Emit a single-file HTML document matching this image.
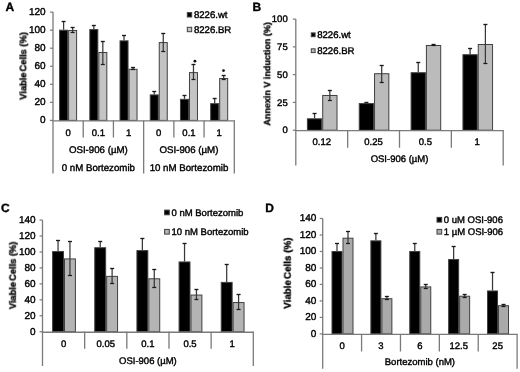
<!DOCTYPE html>
<html><head><meta charset="utf-8"><style>
html,body{margin:0;padding:0;background:#fff;}
svg{display:block;font-family:"Liberation Sans", sans-serif;filter:blur(0.3px);}
text{will-change:transform;text-rendering:geometricPrecision;}
text.r{stroke:#000;stroke-width:0.4px;}
text.b{stroke:#000;stroke-width:0.35px;}
</style></head><body>
<svg width="520" height="372" viewBox="0 0 520 372">
<rect width="520" height="372" fill="#fff"/>
<rect x="59.60" y="30.20" width="8.00" height="90.20" fill="#000" stroke="#404040" stroke-width="1"/>
<line x1="63.60" y1="21.50" x2="63.60" y2="29.70" stroke="#383838" stroke-width="1.25"/>
<line x1="61.60" y1="21.50" x2="65.60" y2="21.50" stroke="#1a1a1a" stroke-width="1.35"/>
<rect x="68.60" y="30.47" width="8.00" height="89.93" fill="#c4c4c4" stroke="#404040" stroke-width="1"/>
<line x1="72.60" y1="27.50" x2="72.60" y2="32.50" stroke="#383838" stroke-width="1.25"/>
<line x1="70.60" y1="27.50" x2="74.60" y2="27.50" stroke="#1a1a1a" stroke-width="1.35"/>
<line x1="70.60" y1="32.50" x2="74.60" y2="32.50" stroke="#1a1a1a" stroke-width="1.25"/>
<rect x="89.82" y="29.57" width="8.00" height="90.83" fill="#000" stroke="#404040" stroke-width="1"/>
<line x1="93.82" y1="25.50" x2="93.82" y2="29.07" stroke="#383838" stroke-width="1.25"/>
<line x1="91.82" y1="25.50" x2="95.82" y2="25.50" stroke="#1a1a1a" stroke-width="1.35"/>
<rect x="98.82" y="52.49" width="8.00" height="67.91" fill="#c4c4c4" stroke="#404040" stroke-width="1"/>
<line x1="102.82" y1="41.50" x2="102.82" y2="64.50" stroke="#383838" stroke-width="1.25"/>
<line x1="100.82" y1="41.50" x2="104.82" y2="41.50" stroke="#1a1a1a" stroke-width="1.35"/>
<line x1="100.82" y1="64.50" x2="104.82" y2="64.50" stroke="#1a1a1a" stroke-width="1.25"/>
<rect x="120.03" y="40.85" width="8.00" height="79.55" fill="#000" stroke="#404040" stroke-width="1"/>
<line x1="124.03" y1="35.50" x2="124.03" y2="40.35" stroke="#383838" stroke-width="1.25"/>
<line x1="122.03" y1="35.50" x2="126.03" y2="35.50" stroke="#1a1a1a" stroke-width="1.35"/>
<rect x="129.03" y="69.28" width="8.00" height="51.12" fill="#c4c4c4" stroke="#404040" stroke-width="1"/>
<line x1="133.03" y1="67.50" x2="133.03" y2="69.50" stroke="#383838" stroke-width="1.25"/>
<line x1="131.03" y1="67.50" x2="135.03" y2="67.50" stroke="#1a1a1a" stroke-width="1.35"/>
<line x1="131.03" y1="69.50" x2="135.03" y2="69.50" stroke="#1a1a1a" stroke-width="1.25"/>
<rect x="150.25" y="94.91" width="8.00" height="25.49" fill="#000" stroke="#404040" stroke-width="1"/>
<line x1="154.25" y1="91.50" x2="154.25" y2="94.41" stroke="#383838" stroke-width="1.25"/>
<line x1="152.25" y1="91.50" x2="156.25" y2="91.50" stroke="#1a1a1a" stroke-width="1.35"/>
<rect x="159.25" y="42.56" width="8.00" height="77.84" fill="#c4c4c4" stroke="#404040" stroke-width="1"/>
<line x1="163.25" y1="33.50" x2="163.25" y2="51.50" stroke="#383838" stroke-width="1.25"/>
<line x1="161.25" y1="33.50" x2="165.25" y2="33.50" stroke="#1a1a1a" stroke-width="1.35"/>
<line x1="161.25" y1="51.50" x2="165.25" y2="51.50" stroke="#1a1a1a" stroke-width="1.25"/>
<rect x="180.47" y="99.33" width="8.00" height="21.07" fill="#000" stroke="#404040" stroke-width="1"/>
<line x1="184.47" y1="95.50" x2="184.47" y2="98.83" stroke="#383838" stroke-width="1.25"/>
<line x1="182.47" y1="95.50" x2="186.47" y2="95.50" stroke="#1a1a1a" stroke-width="1.35"/>
<rect x="189.47" y="72.62" width="8.00" height="47.78" fill="#c4c4c4" stroke="#404040" stroke-width="1"/>
<line x1="193.47" y1="64.50" x2="193.47" y2="79.50" stroke="#383838" stroke-width="1.25"/>
<line x1="191.47" y1="64.50" x2="195.47" y2="64.50" stroke="#1a1a1a" stroke-width="1.35"/>
<line x1="191.47" y1="79.50" x2="195.47" y2="79.50" stroke="#1a1a1a" stroke-width="1.25"/>
<rect x="210.68" y="103.66" width="8.00" height="16.74" fill="#000" stroke="#404040" stroke-width="1"/>
<line x1="214.68" y1="98.50" x2="214.68" y2="103.16" stroke="#383838" stroke-width="1.25"/>
<line x1="212.68" y1="98.50" x2="216.68" y2="98.50" stroke="#1a1a1a" stroke-width="1.35"/>
<rect x="219.68" y="78.48" width="8.00" height="41.92" fill="#c4c4c4" stroke="#404040" stroke-width="1"/>
<line x1="223.68" y1="75.50" x2="223.68" y2="79.50" stroke="#383838" stroke-width="1.25"/>
<line x1="221.68" y1="75.50" x2="225.68" y2="75.50" stroke="#1a1a1a" stroke-width="1.35"/>
<line x1="221.68" y1="79.50" x2="225.68" y2="79.50" stroke="#1a1a1a" stroke-width="1.25"/>
<line x1="53.00" y1="12.10" x2="53.00" y2="173.50" stroke="#7a7a7a" stroke-width="1.3"/>
<line x1="52.40" y1="120.90" x2="234.90" y2="120.90" stroke="#7a7a7a" stroke-width="1.3"/>
<line x1="50.00" y1="120.40" x2="53.00" y2="120.40" stroke="#7a7a7a" stroke-width="1.2"/>
<text class="r" x="45.60" y="123.30" font-size="10" text-anchor="end" font-weight="normal" fill="#000">0</text>
<line x1="50.00" y1="102.35" x2="53.00" y2="102.35" stroke="#7a7a7a" stroke-width="1.2"/>
<text class="r" x="45.60" y="105.25" font-size="10" text-anchor="end" font-weight="normal" fill="#000">20</text>
<line x1="50.00" y1="84.30" x2="53.00" y2="84.30" stroke="#7a7a7a" stroke-width="1.2"/>
<text class="r" x="45.60" y="87.20" font-size="10" text-anchor="end" font-weight="normal" fill="#000">40</text>
<line x1="50.00" y1="66.25" x2="53.00" y2="66.25" stroke="#7a7a7a" stroke-width="1.2"/>
<text class="r" x="45.60" y="69.15" font-size="10" text-anchor="end" font-weight="normal" fill="#000">60</text>
<line x1="50.00" y1="48.20" x2="53.00" y2="48.20" stroke="#7a7a7a" stroke-width="1.2"/>
<text class="r" x="45.60" y="51.10" font-size="10" text-anchor="end" font-weight="normal" fill="#000">80</text>
<line x1="50.00" y1="30.15" x2="53.00" y2="30.15" stroke="#7a7a7a" stroke-width="1.2"/>
<text class="r" x="45.60" y="33.05" font-size="10" text-anchor="end" font-weight="normal" fill="#000">100</text>
<line x1="50.00" y1="12.10" x2="53.00" y2="12.10" stroke="#7a7a7a" stroke-width="1.2"/>
<text class="r" x="45.60" y="15.00" font-size="10" text-anchor="end" font-weight="normal" fill="#000">120</text>
<line x1="83.22" y1="120.40" x2="83.22" y2="137.50" stroke="#7a7a7a" stroke-width="1.3"/>
<line x1="113.43" y1="120.40" x2="113.43" y2="137.50" stroke="#7a7a7a" stroke-width="1.3"/>
<line x1="143.65" y1="120.40" x2="143.65" y2="173.50" stroke="#7a7a7a" stroke-width="1.3"/>
<line x1="173.87" y1="120.40" x2="173.87" y2="137.50" stroke="#7a7a7a" stroke-width="1.3"/>
<line x1="204.08" y1="120.40" x2="204.08" y2="137.50" stroke="#7a7a7a" stroke-width="1.3"/>
<line x1="234.30" y1="120.40" x2="234.30" y2="173.50" stroke="#7a7a7a" stroke-width="1.3"/>
<text class="r" x="68.11" y="135.60" font-size="9.5" text-anchor="middle" font-weight="normal" fill="#000">0</text>
<text class="r" x="98.33" y="135.60" font-size="9.5" text-anchor="middle" font-weight="normal" fill="#000">0.1</text>
<text class="r" x="128.54" y="135.60" font-size="9.5" text-anchor="middle" font-weight="normal" fill="#000">1</text>
<text class="r" x="158.76" y="135.60" font-size="9.5" text-anchor="middle" font-weight="normal" fill="#000">0</text>
<text class="r" x="188.98" y="135.60" font-size="9.5" text-anchor="middle" font-weight="normal" fill="#000">0.1</text>
<text class="r" x="219.19" y="135.60" font-size="9.5" text-anchor="middle" font-weight="normal" fill="#000">1</text>
<text class="r" x="98.33" y="153.20" font-size="9.7" text-anchor="middle" font-weight="normal" fill="#000">OSI-906 (µM)</text>
<text class="r" x="188.98" y="153.20" font-size="9.7" text-anchor="middle" font-weight="normal" fill="#000">OSI-906 (µM)</text>
<text class="r" x="98.33" y="170.60" font-size="9.7" text-anchor="middle" font-weight="normal" fill="#000">0 nM Bortezomib</text>
<text class="r" x="188.98" y="170.60" font-size="9.7" text-anchor="middle" font-weight="normal" fill="#000">10 nM Bortezomib</text>
<text class="b" x="26.30" y="66.00" font-size="9.3" text-anchor="middle" font-weight="bold" fill="#000" transform="rotate(-90 26.3 66.0)">Viable<tspan dx="-1.6"> Cells (%)</tspan></text>
<rect x="187.30" y="12.60" width="4.40" height="4.40" fill="#000" stroke="#404040" stroke-width="1"/>
<text class="r" x="193.90" y="18.10" font-size="9.6" text-anchor="start" font-weight="normal" fill="#000">8226.wt</text>
<rect x="187.30" y="27.30" width="4.40" height="4.40" fill="#c4c4c4" stroke="#404040" stroke-width="1"/>
<text class="r" x="193.90" y="32.90" font-size="9.6" text-anchor="start" font-weight="normal" fill="#000">8226.BR</text>
<text class="b" x="5.50" y="10.60" font-size="12" text-anchor="start" font-weight="bold" fill="#000">A</text>
<rect x="307.40" y="118.81" width="14.30" height="11.39" fill="#000" stroke="#404040" stroke-width="1"/>
<line x1="314.55" y1="113.50" x2="314.55" y2="118.31" stroke="#383838" stroke-width="1.25"/>
<line x1="312.55" y1="113.50" x2="316.55" y2="113.50" stroke="#1a1a1a" stroke-width="1.35"/>
<rect x="322.70" y="95.48" width="14.30" height="34.72" fill="#bbbbbb" stroke="#404040" stroke-width="1"/>
<line x1="329.85" y1="90.50" x2="329.85" y2="100.50" stroke="#383838" stroke-width="1.25"/>
<line x1="327.85" y1="90.50" x2="331.85" y2="90.50" stroke="#1a1a1a" stroke-width="1.35"/>
<line x1="327.85" y1="100.50" x2="331.85" y2="100.50" stroke="#1a1a1a" stroke-width="1.25"/>
<rect x="359.25" y="103.59" width="14.30" height="26.61" fill="#000" stroke="#404040" stroke-width="1"/>
<line x1="366.40" y1="102.50" x2="366.40" y2="103.09" stroke="#383838" stroke-width="1.25"/>
<line x1="364.40" y1="102.50" x2="368.40" y2="102.50" stroke="#1a1a1a" stroke-width="1.35"/>
<rect x="374.55" y="73.71" width="14.30" height="56.49" fill="#bbbbbb" stroke="#404040" stroke-width="1"/>
<line x1="381.70" y1="65.50" x2="381.70" y2="82.50" stroke="#383838" stroke-width="1.25"/>
<line x1="379.70" y1="65.50" x2="383.70" y2="65.50" stroke="#1a1a1a" stroke-width="1.35"/>
<line x1="379.70" y1="82.50" x2="383.70" y2="82.50" stroke="#1a1a1a" stroke-width="1.25"/>
<rect x="411.10" y="72.71" width="14.30" height="57.49" fill="#000" stroke="#404040" stroke-width="1"/>
<line x1="418.25" y1="62.50" x2="418.25" y2="72.21" stroke="#383838" stroke-width="1.25"/>
<line x1="416.25" y1="62.50" x2="420.25" y2="62.50" stroke="#1a1a1a" stroke-width="1.35"/>
<rect x="426.40" y="45.49" width="14.30" height="84.71" fill="#bbbbbb" stroke="#404040" stroke-width="1"/>
<line x1="433.55" y1="44.50" x2="433.55" y2="45.50" stroke="#383838" stroke-width="1.25"/>
<line x1="431.55" y1="44.50" x2="435.55" y2="44.50" stroke="#1a1a1a" stroke-width="1.35"/>
<line x1="431.55" y1="45.50" x2="435.55" y2="45.50" stroke="#1a1a1a" stroke-width="1.25"/>
<rect x="462.95" y="54.71" width="14.30" height="75.49" fill="#000" stroke="#404040" stroke-width="1"/>
<line x1="470.10" y1="48.50" x2="470.10" y2="54.21" stroke="#383838" stroke-width="1.25"/>
<line x1="468.10" y1="48.50" x2="472.10" y2="48.50" stroke="#1a1a1a" stroke-width="1.35"/>
<rect x="478.25" y="44.49" width="14.30" height="85.71" fill="#bbbbbb" stroke="#404040" stroke-width="1"/>
<line x1="485.40" y1="24.50" x2="485.40" y2="63.50" stroke="#383838" stroke-width="1.25"/>
<line x1="483.40" y1="24.50" x2="487.40" y2="24.50" stroke="#1a1a1a" stroke-width="1.35"/>
<line x1="483.40" y1="63.50" x2="487.40" y2="63.50" stroke="#1a1a1a" stroke-width="1.25"/>
<line x1="295.80" y1="19.10" x2="295.80" y2="165.50" stroke="#7a7a7a" stroke-width="1.3"/>
<line x1="295.20" y1="130.70" x2="503.80" y2="130.70" stroke="#7a7a7a" stroke-width="1.3"/>
<line x1="292.80" y1="130.20" x2="295.80" y2="130.20" stroke="#7a7a7a" stroke-width="1.2"/>
<text class="r" x="287.70" y="133.40" font-size="9.5" text-anchor="end" font-weight="normal" fill="#000">0</text>
<line x1="292.80" y1="102.42" x2="295.80" y2="102.42" stroke="#7a7a7a" stroke-width="1.2"/>
<text class="r" x="287.70" y="105.62" font-size="9.5" text-anchor="end" font-weight="normal" fill="#000">25</text>
<line x1="292.80" y1="74.65" x2="295.80" y2="74.65" stroke="#7a7a7a" stroke-width="1.2"/>
<text class="r" x="287.70" y="77.85" font-size="9.5" text-anchor="end" font-weight="normal" fill="#000">50</text>
<line x1="292.80" y1="46.87" x2="295.80" y2="46.87" stroke="#7a7a7a" stroke-width="1.2"/>
<text class="r" x="287.70" y="50.07" font-size="9.5" text-anchor="end" font-weight="normal" fill="#000">75</text>
<line x1="292.80" y1="19.10" x2="295.80" y2="19.10" stroke="#7a7a7a" stroke-width="1.2"/>
<text class="r" x="287.70" y="22.30" font-size="9.5" text-anchor="end" font-weight="normal" fill="#000">100</text>
<line x1="347.65" y1="130.20" x2="347.65" y2="147.70" stroke="#7a7a7a" stroke-width="1.3"/>
<line x1="399.50" y1="130.20" x2="399.50" y2="147.70" stroke="#7a7a7a" stroke-width="1.3"/>
<line x1="451.35" y1="130.20" x2="451.35" y2="147.70" stroke="#7a7a7a" stroke-width="1.3"/>
<line x1="503.20" y1="130.20" x2="503.20" y2="165.50" stroke="#7a7a7a" stroke-width="1.3"/>
<text class="r" x="321.73" y="144.50" font-size="9.5" text-anchor="middle" font-weight="normal" fill="#000">0.12</text>
<text class="r" x="373.57" y="144.50" font-size="9.5" text-anchor="middle" font-weight="normal" fill="#000">0.25</text>
<text class="r" x="425.43" y="144.50" font-size="9.5" text-anchor="middle" font-weight="normal" fill="#000">0.5</text>
<text class="r" x="477.27" y="144.50" font-size="9.5" text-anchor="middle" font-weight="normal" fill="#000">1</text>
<text class="r" x="399.50" y="162.10" font-size="9.5" text-anchor="middle" font-weight="normal" fill="#000">OSI-906 (µM)</text>
<text class="b" x="270.20" y="74.00" font-size="9" text-anchor="middle" font-weight="bold" fill="#000" transform="rotate(-90 270.2 74)">Annexin V induction (%)</text>
<rect x="311.30" y="32.90" width="3.80" height="3.80" fill="#000" stroke="#404040" stroke-width="1"/>
<text class="r" x="317.20" y="38.00" font-size="9.6" text-anchor="start" font-weight="normal" fill="#000">8226.wt</text>
<rect x="311.30" y="48.80" width="3.80" height="3.80" fill="#bbbbbb" stroke="#404040" stroke-width="1"/>
<text class="r" x="317.20" y="53.90" font-size="9.6" text-anchor="start" font-weight="normal" fill="#000">8226.BR</text>
<text class="b" x="252.40" y="11.30" font-size="12" text-anchor="start" font-weight="bold" fill="#000">B</text>
<rect x="52.60" y="251.57" width="10.90" height="80.18" fill="#000" stroke="#404040" stroke-width="1"/>
<line x1="58.05" y1="240.50" x2="58.05" y2="251.07" stroke="#383838" stroke-width="1.25"/>
<line x1="56.05" y1="240.50" x2="60.05" y2="240.50" stroke="#1a1a1a" stroke-width="1.35"/>
<rect x="64.50" y="258.91" width="10.90" height="72.84" fill="#b4b4b4" stroke="#404040" stroke-width="1"/>
<line x1="69.95" y1="241.50" x2="69.95" y2="275.50" stroke="#383838" stroke-width="1.25"/>
<line x1="67.95" y1="241.50" x2="71.95" y2="241.50" stroke="#1a1a1a" stroke-width="1.35"/>
<line x1="67.95" y1="275.50" x2="71.95" y2="275.50" stroke="#1a1a1a" stroke-width="1.25"/>
<rect x="94.76" y="247.74" width="10.90" height="84.01" fill="#000" stroke="#404040" stroke-width="1"/>
<line x1="100.21" y1="241.50" x2="100.21" y2="247.24" stroke="#383838" stroke-width="1.25"/>
<line x1="98.21" y1="241.50" x2="102.21" y2="241.50" stroke="#1a1a1a" stroke-width="1.35"/>
<rect x="106.66" y="276.39" width="10.90" height="55.36" fill="#b4b4b4" stroke="#404040" stroke-width="1"/>
<line x1="112.11" y1="268.50" x2="112.11" y2="283.50" stroke="#383838" stroke-width="1.25"/>
<line x1="110.11" y1="268.50" x2="114.11" y2="268.50" stroke="#1a1a1a" stroke-width="1.35"/>
<line x1="110.11" y1="283.50" x2="114.11" y2="283.50" stroke="#1a1a1a" stroke-width="1.25"/>
<rect x="136.92" y="250.61" width="10.90" height="81.14" fill="#000" stroke="#404040" stroke-width="1"/>
<line x1="142.37" y1="238.50" x2="142.37" y2="250.11" stroke="#383838" stroke-width="1.25"/>
<line x1="140.37" y1="238.50" x2="144.37" y2="238.50" stroke="#1a1a1a" stroke-width="1.35"/>
<rect x="148.82" y="278.78" width="10.90" height="52.97" fill="#b4b4b4" stroke="#404040" stroke-width="1"/>
<line x1="154.27" y1="269.50" x2="154.27" y2="287.50" stroke="#383838" stroke-width="1.25"/>
<line x1="152.27" y1="269.50" x2="156.27" y2="269.50" stroke="#1a1a1a" stroke-width="1.35"/>
<line x1="152.27" y1="287.50" x2="156.27" y2="287.50" stroke="#1a1a1a" stroke-width="1.25"/>
<rect x="179.08" y="261.95" width="10.90" height="69.80" fill="#000" stroke="#404040" stroke-width="1"/>
<line x1="184.53" y1="243.50" x2="184.53" y2="261.45" stroke="#383838" stroke-width="1.25"/>
<line x1="182.53" y1="243.50" x2="186.53" y2="243.50" stroke="#1a1a1a" stroke-width="1.35"/>
<rect x="190.98" y="295.06" width="10.90" height="36.69" fill="#b4b4b4" stroke="#404040" stroke-width="1"/>
<line x1="196.43" y1="289.50" x2="196.43" y2="299.50" stroke="#383838" stroke-width="1.25"/>
<line x1="194.43" y1="289.50" x2="198.43" y2="289.50" stroke="#1a1a1a" stroke-width="1.35"/>
<line x1="194.43" y1="299.50" x2="198.43" y2="299.50" stroke="#1a1a1a" stroke-width="1.25"/>
<rect x="221.24" y="282.38" width="10.90" height="49.38" fill="#000" stroke="#404040" stroke-width="1"/>
<line x1="226.69" y1="264.50" x2="226.69" y2="281.88" stroke="#383838" stroke-width="1.25"/>
<line x1="224.69" y1="264.50" x2="228.69" y2="264.50" stroke="#1a1a1a" stroke-width="1.35"/>
<rect x="233.14" y="302.56" width="10.90" height="29.19" fill="#b4b4b4" stroke="#404040" stroke-width="1"/>
<line x1="238.59" y1="294.50" x2="238.59" y2="309.50" stroke="#383838" stroke-width="1.25"/>
<line x1="236.59" y1="294.50" x2="240.59" y2="294.50" stroke="#1a1a1a" stroke-width="1.35"/>
<line x1="236.59" y1="309.50" x2="240.59" y2="309.50" stroke="#1a1a1a" stroke-width="1.25"/>
<line x1="42.50" y1="220.03" x2="42.50" y2="366.00" stroke="#7a7a7a" stroke-width="1.3"/>
<line x1="41.90" y1="332.25" x2="253.90" y2="332.25" stroke="#7a7a7a" stroke-width="1.3"/>
<line x1="39.50" y1="331.75" x2="42.50" y2="331.75" stroke="#7a7a7a" stroke-width="1.2"/>
<text class="r" x="35.60" y="334.65" font-size="10" text-anchor="end" font-weight="normal" fill="#000">0</text>
<line x1="39.50" y1="315.79" x2="42.50" y2="315.79" stroke="#7a7a7a" stroke-width="1.2"/>
<text class="r" x="35.60" y="318.69" font-size="10" text-anchor="end" font-weight="normal" fill="#000">20</text>
<line x1="39.50" y1="299.83" x2="42.50" y2="299.83" stroke="#7a7a7a" stroke-width="1.2"/>
<text class="r" x="35.60" y="302.73" font-size="10" text-anchor="end" font-weight="normal" fill="#000">40</text>
<line x1="39.50" y1="283.87" x2="42.50" y2="283.87" stroke="#7a7a7a" stroke-width="1.2"/>
<text class="r" x="35.60" y="286.77" font-size="10" text-anchor="end" font-weight="normal" fill="#000">60</text>
<line x1="39.50" y1="267.91" x2="42.50" y2="267.91" stroke="#7a7a7a" stroke-width="1.2"/>
<text class="r" x="35.60" y="270.81" font-size="10" text-anchor="end" font-weight="normal" fill="#000">80</text>
<line x1="39.50" y1="251.95" x2="42.50" y2="251.95" stroke="#7a7a7a" stroke-width="1.2"/>
<text class="r" x="35.60" y="254.85" font-size="10" text-anchor="end" font-weight="normal" fill="#000">100</text>
<line x1="39.50" y1="235.99" x2="42.50" y2="235.99" stroke="#7a7a7a" stroke-width="1.2"/>
<text class="r" x="35.60" y="238.89" font-size="10" text-anchor="end" font-weight="normal" fill="#000">120</text>
<line x1="39.50" y1="220.03" x2="42.50" y2="220.03" stroke="#7a7a7a" stroke-width="1.2"/>
<text class="r" x="35.60" y="222.93" font-size="10" text-anchor="end" font-weight="normal" fill="#000">140</text>
<line x1="84.66" y1="331.75" x2="84.66" y2="348.70" stroke="#7a7a7a" stroke-width="1.3"/>
<line x1="126.82" y1="331.75" x2="126.82" y2="348.70" stroke="#7a7a7a" stroke-width="1.3"/>
<line x1="168.98" y1="331.75" x2="168.98" y2="348.70" stroke="#7a7a7a" stroke-width="1.3"/>
<line x1="211.14" y1="331.75" x2="211.14" y2="348.70" stroke="#7a7a7a" stroke-width="1.3"/>
<line x1="253.30" y1="331.75" x2="253.30" y2="366.00" stroke="#7a7a7a" stroke-width="1.3"/>
<text class="r" x="63.58" y="346.80" font-size="9.5" text-anchor="middle" font-weight="normal" fill="#000">0</text>
<text class="r" x="105.74" y="346.80" font-size="9.5" text-anchor="middle" font-weight="normal" fill="#000">0.05</text>
<text class="r" x="147.90" y="346.80" font-size="9.5" text-anchor="middle" font-weight="normal" fill="#000">0.1</text>
<text class="r" x="190.06" y="346.80" font-size="9.5" text-anchor="middle" font-weight="normal" fill="#000">0.5</text>
<text class="r" x="232.22" y="346.80" font-size="9.5" text-anchor="middle" font-weight="normal" fill="#000">1</text>
<text class="r" x="147.90" y="363.90" font-size="9.5" text-anchor="middle" font-weight="normal" fill="#000">OSI-906 (µM)</text>
<text class="b" x="16.20" y="275.40" font-size="9.3" text-anchor="middle" font-weight="bold" fill="#000" transform="rotate(-90 16.2 275.4)">Viable<tspan dx="-1.6"> Cells (%)</tspan></text>
<rect x="164.60" y="210.10" width="4.70" height="4.70" fill="#000" stroke="#404040" stroke-width="1"/>
<text class="r" x="171.50" y="215.90" font-size="9.5" text-anchor="start" font-weight="normal" fill="#000">0 nM Bortezomib</text>
<rect x="164.60" y="229.40" width="4.70" height="4.70" fill="#b4b4b4" stroke="#404040" stroke-width="1"/>
<text class="r" x="171.50" y="235.00" font-size="9.5" text-anchor="start" font-weight="normal" fill="#000">10 nM Bortezomib</text>
<text class="b" x="0.90" y="211.80" font-size="12" text-anchor="start" font-weight="bold" fill="#000">C</text>
<rect x="332.00" y="251.48" width="10.00" height="82.42" fill="#000" stroke="#404040" stroke-width="1"/>
<line x1="337.00" y1="243.50" x2="337.00" y2="250.98" stroke="#383838" stroke-width="1.25"/>
<line x1="335.00" y1="243.50" x2="339.00" y2="243.50" stroke="#1a1a1a" stroke-width="1.35"/>
<rect x="343.00" y="238.20" width="10.00" height="95.70" fill="#aaaaaa" stroke="#404040" stroke-width="1"/>
<line x1="348.00" y1="231.50" x2="348.00" y2="243.50" stroke="#383838" stroke-width="1.25"/>
<line x1="346.00" y1="231.50" x2="350.00" y2="231.50" stroke="#1a1a1a" stroke-width="1.35"/>
<line x1="346.00" y1="243.50" x2="350.00" y2="243.50" stroke="#1a1a1a" stroke-width="1.25"/>
<rect x="370.88" y="240.84" width="10.00" height="93.06" fill="#000" stroke="#404040" stroke-width="1"/>
<line x1="375.88" y1="233.50" x2="375.88" y2="240.34" stroke="#383838" stroke-width="1.25"/>
<line x1="373.88" y1="233.50" x2="377.88" y2="233.50" stroke="#1a1a1a" stroke-width="1.35"/>
<rect x="381.88" y="298.71" width="10.00" height="35.19" fill="#aaaaaa" stroke="#404040" stroke-width="1"/>
<line x1="386.88" y1="296.50" x2="386.88" y2="299.50" stroke="#383838" stroke-width="1.25"/>
<line x1="384.88" y1="296.50" x2="388.88" y2="296.50" stroke="#1a1a1a" stroke-width="1.35"/>
<line x1="384.88" y1="299.50" x2="388.88" y2="299.50" stroke="#1a1a1a" stroke-width="1.25"/>
<rect x="409.76" y="251.48" width="10.00" height="82.42" fill="#000" stroke="#404040" stroke-width="1"/>
<line x1="414.76" y1="243.50" x2="414.76" y2="250.98" stroke="#383838" stroke-width="1.25"/>
<line x1="412.76" y1="243.50" x2="416.76" y2="243.50" stroke="#1a1a1a" stroke-width="1.35"/>
<rect x="420.76" y="286.92" width="10.00" height="46.98" fill="#aaaaaa" stroke="#404040" stroke-width="1"/>
<line x1="425.76" y1="284.50" x2="425.76" y2="288.50" stroke="#383838" stroke-width="1.25"/>
<line x1="423.76" y1="284.50" x2="427.76" y2="284.50" stroke="#1a1a1a" stroke-width="1.35"/>
<line x1="423.76" y1="288.50" x2="427.76" y2="288.50" stroke="#1a1a1a" stroke-width="1.25"/>
<rect x="448.64" y="259.47" width="10.00" height="74.43" fill="#000" stroke="#404040" stroke-width="1"/>
<line x1="453.64" y1="246.50" x2="453.64" y2="258.97" stroke="#383838" stroke-width="1.25"/>
<line x1="451.64" y1="246.50" x2="455.64" y2="246.50" stroke="#1a1a1a" stroke-width="1.35"/>
<rect x="459.64" y="296.23" width="10.00" height="37.67" fill="#aaaaaa" stroke="#404040" stroke-width="1"/>
<line x1="464.64" y1="294.50" x2="464.64" y2="297.50" stroke="#383838" stroke-width="1.25"/>
<line x1="462.64" y1="294.50" x2="466.64" y2="294.50" stroke="#1a1a1a" stroke-width="1.35"/>
<line x1="462.64" y1="297.50" x2="466.64" y2="297.50" stroke="#1a1a1a" stroke-width="1.25"/>
<rect x="487.52" y="290.96" width="10.00" height="42.94" fill="#000" stroke="#404040" stroke-width="1"/>
<line x1="492.52" y1="272.50" x2="492.52" y2="290.46" stroke="#383838" stroke-width="1.25"/>
<line x1="490.52" y1="272.50" x2="494.52" y2="272.50" stroke="#1a1a1a" stroke-width="1.35"/>
<rect x="498.52" y="305.71" width="10.00" height="28.19" fill="#aaaaaa" stroke="#404040" stroke-width="1"/>
<line x1="503.52" y1="304.50" x2="503.52" y2="306.50" stroke="#383838" stroke-width="1.25"/>
<line x1="501.52" y1="304.50" x2="505.52" y2="304.50" stroke="#1a1a1a" stroke-width="1.35"/>
<line x1="501.52" y1="306.50" x2="505.52" y2="306.50" stroke="#1a1a1a" stroke-width="1.25"/>
<line x1="322.70" y1="218.50" x2="322.70" y2="368.80" stroke="#7a7a7a" stroke-width="1.3"/>
<line x1="322.10" y1="334.40" x2="517.70" y2="334.40" stroke="#7a7a7a" stroke-width="1.3"/>
<line x1="319.70" y1="333.90" x2="322.70" y2="333.90" stroke="#7a7a7a" stroke-width="1.2"/>
<text class="r" x="316.40" y="336.80" font-size="10" text-anchor="end" font-weight="normal" fill="#000">0</text>
<line x1="319.70" y1="317.41" x2="322.70" y2="317.41" stroke="#7a7a7a" stroke-width="1.2"/>
<text class="r" x="316.40" y="320.31" font-size="10" text-anchor="end" font-weight="normal" fill="#000">20</text>
<line x1="319.70" y1="300.93" x2="322.70" y2="300.93" stroke="#7a7a7a" stroke-width="1.2"/>
<text class="r" x="316.40" y="303.83" font-size="10" text-anchor="end" font-weight="normal" fill="#000">40</text>
<line x1="319.70" y1="284.44" x2="322.70" y2="284.44" stroke="#7a7a7a" stroke-width="1.2"/>
<text class="r" x="316.40" y="287.34" font-size="10" text-anchor="end" font-weight="normal" fill="#000">60</text>
<line x1="319.70" y1="267.96" x2="322.70" y2="267.96" stroke="#7a7a7a" stroke-width="1.2"/>
<text class="r" x="316.40" y="270.86" font-size="10" text-anchor="end" font-weight="normal" fill="#000">80</text>
<line x1="319.70" y1="251.47" x2="322.70" y2="251.47" stroke="#7a7a7a" stroke-width="1.2"/>
<text class="r" x="316.40" y="254.37" font-size="10" text-anchor="end" font-weight="normal" fill="#000">100</text>
<line x1="319.70" y1="234.98" x2="322.70" y2="234.98" stroke="#7a7a7a" stroke-width="1.2"/>
<text class="r" x="316.40" y="237.88" font-size="10" text-anchor="end" font-weight="normal" fill="#000">120</text>
<line x1="319.70" y1="218.50" x2="322.70" y2="218.50" stroke="#7a7a7a" stroke-width="1.2"/>
<text class="r" x="316.40" y="221.40" font-size="10" text-anchor="end" font-weight="normal" fill="#000">140</text>
<line x1="361.58" y1="333.90" x2="361.58" y2="351.50" stroke="#7a7a7a" stroke-width="1.3"/>
<line x1="400.46" y1="333.90" x2="400.46" y2="351.50" stroke="#7a7a7a" stroke-width="1.3"/>
<line x1="439.34" y1="333.90" x2="439.34" y2="351.50" stroke="#7a7a7a" stroke-width="1.3"/>
<line x1="478.22" y1="333.90" x2="478.22" y2="351.50" stroke="#7a7a7a" stroke-width="1.3"/>
<line x1="517.10" y1="333.90" x2="517.10" y2="368.80" stroke="#7a7a7a" stroke-width="1.3"/>
<text class="r" x="342.14" y="348.70" font-size="9.5" text-anchor="middle" font-weight="normal" fill="#000">0</text>
<text class="r" x="381.02" y="348.70" font-size="9.5" text-anchor="middle" font-weight="normal" fill="#000">3</text>
<text class="r" x="419.90" y="348.70" font-size="9.5" text-anchor="middle" font-weight="normal" fill="#000">6</text>
<text class="r" x="458.78" y="348.70" font-size="9.5" text-anchor="middle" font-weight="normal" fill="#000">12.5</text>
<text class="r" x="497.66" y="348.70" font-size="9.5" text-anchor="middle" font-weight="normal" fill="#000">25</text>
<text class="r" x="419.90" y="365.30" font-size="9.5" text-anchor="middle" font-weight="normal" fill="#000">Bortezomib (nM)</text>
<text class="b" x="290.90" y="273.20" font-size="9.8" text-anchor="middle" font-weight="bold" fill="#000" transform="rotate(-90 290.9 273.2)">Viable<tspan dx="-1.6"> Cells (%)</tspan></text>
<rect x="437.00" y="217.40" width="4.70" height="4.70" fill="#000" stroke="#404040" stroke-width="1"/>
<text class="r" x="443.80" y="223.20" font-size="9.5" text-anchor="start" font-weight="normal" fill="#000">0 uM OSI-906</text>
<rect x="437.00" y="229.40" width="4.70" height="4.70" fill="#aaaaaa" stroke="#404040" stroke-width="1"/>
<text class="r" x="443.80" y="235.00" font-size="9.5" text-anchor="start" font-weight="normal" fill="#000">1 µM OSI-906</text>
<text class="b" x="265.20" y="211.70" font-size="12" text-anchor="start" font-weight="bold" fill="#000">D</text>
<circle cx="194.9" cy="61.2" r="1.4" fill="#111"/>
<circle cx="223.5" cy="70.6" r="1.4" fill="#111"/>
</svg>
</body></html>
